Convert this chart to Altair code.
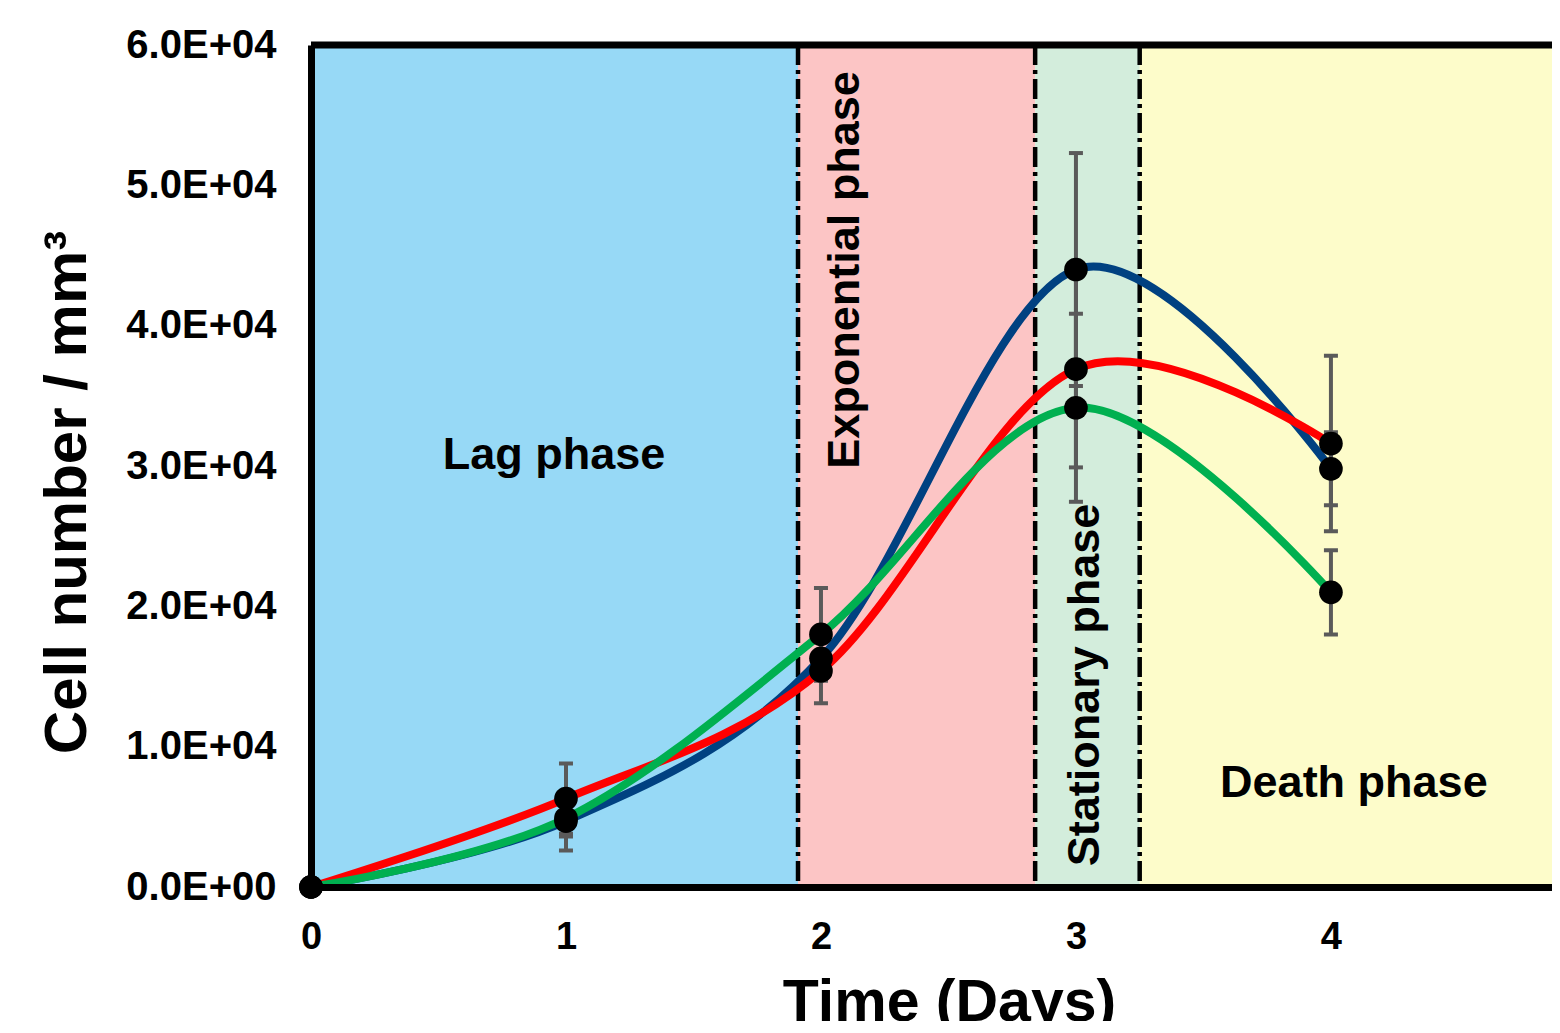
import altair as alt
import pandas as pd

# ---------------- data ----------------
days = [0, 1, 2, 3, 4]
series_names = ["Blue", "Red", "Green"]
blue_vals = [0, 4700, 16300, 44000, 29800]
red_vals = [0, 6300, 15400, 36900, 31600]
green_vals = [0, 4900, 18000, 34150, 21000]
blue_err = [0, 2100, 1500, 8300, 2600]
red_err = [0, 2500, 2300, 7000, 6250]
green_err = [0, 1300, 3300, 6700, 3000]
series_colors = ["#004181", "#FF0000", "#00B050"]

phase_names = ["Lag phase", "Exponential phase", "Stationary phase", "Death phase"]
phase_start = [0, 1.91, 2.84, 3.25]
phase_end = [1.91, 2.84, 3.25, 4.9]
phase_colors = ["#97D9F6", "#FCC5C5", "#D3EDDC", "#FDFCCA"]
phase_label_x = [0.953, 2.094, 3.035, 4.09]
phase_label_y = [30780, 43970, 14390, 7410]
phase_label_angle = [0, 270, 270, 0]
boundaries = [1.91, 2.84, 3.25]

x_ticks = [0, 1, 2, 3, 4]
y_ticks = [0, 10000, 20000, 30000, 40000, 50000, 60000]
y_tick_labels = ["0.0E+00", "1.0E+04", "2.0E+04", "3.0E+04", "4.0E+04", "5.0E+04", "6.0E+04"]
x_max = 4.867
y_max = 60000

FONT = "Liberation Sans"

# ---------------- tables ----------------
vals = [blue_vals, red_vals, green_vals]
errs = [blue_err, red_err, green_err]
rows = []
for name, v, e in zip(series_names, vals, errs):
    for d, yv, ev in zip(days, v, e):
        rows.append({"series": name, "day": d, "value": yv, "lo": yv - ev, "hi": yv + ev})
df = pd.DataFrame(rows)
df_err = df[df["hi"] > df["lo"]]
caps = pd.concat([
    df_err[["series", "day", "lo"]].rename(columns={"lo": "cap"}),
    df_err[["series", "day", "hi"]].rename(columns={"hi": "cap"}),
])

phases = pd.DataFrame({
    "phase": phase_names, "start": phase_start, "end": phase_end,
    "lx": phase_label_x, "ly": phase_label_y, "angle": phase_label_angle,
})
bounds = pd.DataFrame({"b": boundaries})
top_df = pd.DataFrame({"top": [y_max]})

xscale = alt.Scale(domain=[0, x_max], nice=False, zero=False)
yscale = alt.Scale(domain=[0, y_max], nice=False)

label_expr = "[" + ",".join("'%s'" % s for s in y_tick_labels) + "][round(datum.value/10000)]"

x_axis = alt.Axis(
    values=x_ticks, format="d", grid=False, ticks=False, tickSize=0,
    labelFont=FONT, labelFontSize=38, labelFontWeight="bold", labelColor="black",
    labelPadding=31, labelBaseline="top", labelFlush=False, labelOverlap=False,
    domainColor="black", domainWidth=7,
    title="Time (Days)", titleFont=FONT, titleFontSize=59, titleFontWeight="bold",
    titleColor="black", titleX=638, titleY=133, titleBaseline="alphabetic",
    titleAlign="center", zindex=1,
)
y_axis = alt.Axis(
    values=y_ticks, labelExpr=label_expr, grid=False, ticks=False, tickSize=0,
    labelFont=FONT, labelFontSize=40, labelFontWeight="bold", labelColor="black",
    labelPadding=35, labelFlush=False, labelOverlap=False,
    domainColor="black", domainWidth=7,
    title="Cell number / mm³", titleFont=FONT, titleFontSize=60, titleFontWeight="bold",
    titleColor="black", titleAngle=270, titleX=-244, titleY=447,
    titleBaseline="middle", titleAlign="center", zindex=1,
)

bg = alt.Chart(phases).mark_rect().encode(
    x=alt.X("start:Q", scale=xscale, axis=x_axis),
    x2="end:Q",
    color=alt.Color("phase:N", scale=alt.Scale(domain=phase_names, range=phase_colors), legend=None),
)

vlines = alt.Chart(bounds).mark_rule(color="black", strokeWidth=4.5, strokeDash=[20, 5, 4, 5]).encode(
    x=alt.X("b:Q", scale=xscale),
)

labels = alt.Chart(phases).mark_text(
    font=FONT, fontSize=45, fontWeight="bold", color="black", align="center", baseline="middle"
).encode(
    x=alt.X("lx:Q", scale=xscale),
    y=alt.Y("ly:Q", scale=yscale, axis=y_axis),
    text="phase:N",
    angle=alt.Angle("angle:Q", scale=None),
)

ebars = alt.Chart(df_err).mark_rule(color="#5A5A5A", strokeWidth=4).encode(
    x=alt.X("day:Q", scale=xscale),
    y=alt.Y("lo:Q", scale=yscale),
    y2="hi:Q",
)
ecaps = alt.Chart(caps).mark_tick(color="#5A5A5A", orient="horizontal", size=14, thickness=4, opacity=1).encode(
    x=alt.X("day:Q", scale=xscale),
    y=alt.Y("cap:Q", scale=yscale),
)

line_layers = []
for name, col in zip(series_names, series_colors):
    line_layers.append(
        alt.Chart(df[df["series"] == name]).mark_line(
            color=col, strokeWidth=8, interpolate="cardinal"
        ).encode(
            x=alt.X("day:Q", scale=xscale),
            y=alt.Y("value:Q", scale=yscale),
        )
    )

points = alt.Chart(df).mark_circle(color="black", size=560, opacity=1).encode(
    x=alt.X("day:Q", scale=xscale),
    y=alt.Y("value:Q", scale=yscale),
)

top_rule = alt.Chart(top_df).mark_rule(color="black", strokeWidth=7).encode(
    y=alt.Y("top:Q", scale=yscale),
)

chart = alt.layer(
    bg, vlines, labels, ebars, ecaps, *line_layers, points, top_rule
).properties(
    width=1241, height=842,
    autosize=alt.AutoSizeParams(type="none"),
    padding={"left": 303, "top": 37, "right": 0, "bottom": 134},
).configure_view(stroke=None).configure(background="white")

chart.save("out.html", embed_options={"renderer": "svg", "actions": False})
